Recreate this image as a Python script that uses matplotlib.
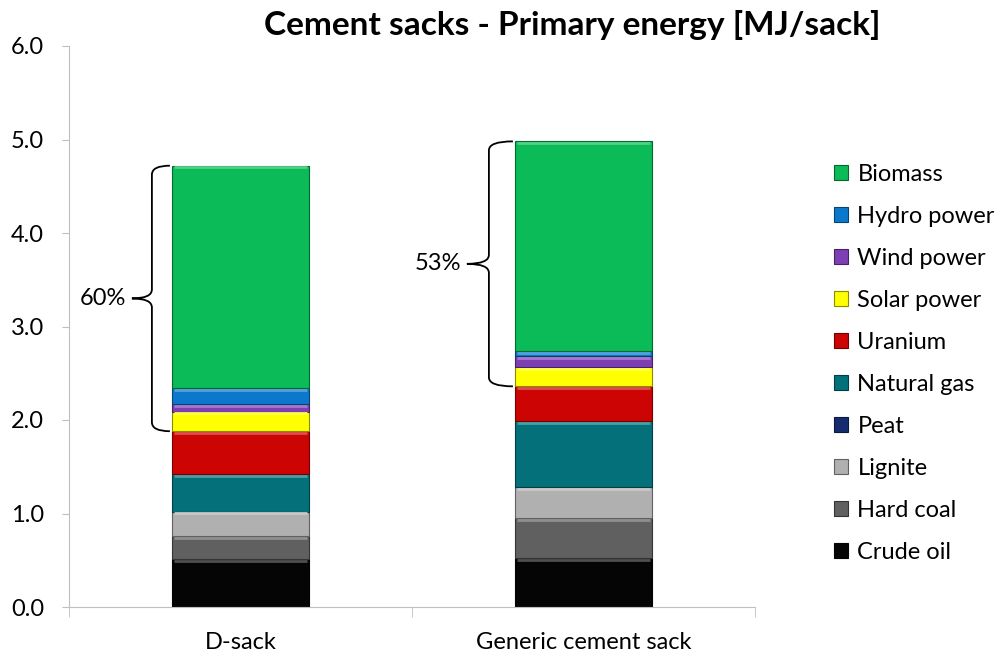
import numpy as np
import matplotlib
matplotlib.use("Agg")
import matplotlib.pyplot as plt
import matplotlib.colors as mcolors
from matplotlib.path import Path
from matplotlib.patches import PathPatch

plt.rcParams['font.family'] = ['Lato', 'DejaVu Sans']

# data (MJ per sack), stacked bottom -> top
categories = ["D-sack", "Generic cement sack"]
sources = ["Crude oil", "Hard coal", "Lignite", "Peat", "Natural gas",
           "Uranium", "Solar power", "Wind power", "Hydro power", "Biomass"]
dsack = [0.51, 0.25, 0.26, 0.0, 0.40, 0.46, 0.21, 0.08, 0.17, 2.38]
generic = [0.52, 0.43, 0.33, 0.0, 0.71, 0.37, 0.21, 0.11, 0.06, 2.24]
renew_share = ["60%", "53%"]
renewables = ["Solar power", "Wind power", "Hydro power", "Biomass"]

colors = ["#050505", "#606060", "#B0B0B0", "#142C6E", "#04707A",
          "#CC0404", "#FFFF00", "#7E3FB5", "#0C78CC", "#0ABB57"]

values = np.array([dsack, generic])  # shape (2, n_sources)
x = np.arange(len(categories))
width = 0.4

fig = plt.figure(figsize=(10.02, 6.57), dpi=100)
ax = fig.add_axes([69/1002, 50/657, 686/1002, 561/657])

px_x = 686 / 2.0
px_y = 561 / 6.0


def shade(c, f):
    # f>0 lighter, f<0 darker
    rgb = np.array(mcolors.to_rgb(c))
    if f > 0:
        rgb = rgb + (1 - rgb) * f
    else:
        rgb = rgb * (1 + f)
    return rgb


bottom = np.zeros(len(categories))
handles = []
for i, src in enumerate(sources):
    b = ax.bar(x, values[:, i], width, bottom=bottom, color=colors[i],
               edgecolor=shade(colors[i], -0.45), linewidth=0.8,
               label=src, zorder=2)
    handles.append(b)
    # bevel look: light band at the top of each segment
    for j in range(len(categories)):
        if values[j, i] > 0.03:
            top = bottom[j] + values[j, i] - 1.8 / px_y
            ax.hlines(top, x[j] - width / 2 + 2 / px_x, x[j] + width / 2 - 2 / px_x,
                      color=shade(colors[i], 0.3), lw=2.0, zorder=2.5)
    bottom += values[:, i]

ax.set_ylim(0, 6)
ax.set_xlim(-0.5, 1.5)
ax.set_yticks(np.arange(0, 6.1, 1.0))
ax.set_yticklabels([f"{v:.1f}" for v in np.arange(0, 6.1, 1.0)])
ax.set_xticks(x)
ax.set_xticklabels(categories)
ax.set_xticks([-0.5, 0.5, 1.5], minor=True)
ax.tick_params(axis='x', which='major', length=0, pad=18, labelsize=17)
ax.tick_params(axis='x', which='minor', length=7, color="#BFBFBF", direction='out')
ax.tick_params(axis='y', length=5, color="#BFBFBF", pad=13, labelsize=17)
for s in ["top", "right"]:
    ax.spines[s].set_visible(False)
for s in ["left", "bottom"]:
    ax.spines[s].set_color("#BFBFBF")

# braces around renewable part
n_fossil = sources.index(renewables[0])
brace_off = [20, 26]   # px from bar edge to brace stem
tip_off = [40, 48]     # px from bar edge to brace tip
for j in range(len(categories)):
    lo = values[j, :n_fossil].sum()
    hi = values[j].sum()
    mid = (lo + hi) / 2
    xe = x[j] - width / 2 - 2 / px_x
    xs = x[j] - width / 2 - brace_off[j] / px_x
    xt = x[j] - width / 2 - tip_off[j] / px_x
    r = 9 / px_y
    codes = [Path.MOVETO, Path.CURVE3, Path.CURVE3,
             Path.LINETO, Path.CURVE3, Path.CURVE3,
             Path.MOVETO, Path.CURVE3, Path.CURVE3,
             Path.LINETO, Path.CURVE3, Path.CURVE3]
    verts = [(xe, hi), (xs, hi), (xs, hi - r),
             (xs, mid + r), (xs, mid), (xt, mid),
             (xt, mid), (xs, mid), (xs, mid - r),
             (xs, lo + r), (xs, lo), (xe, lo)]
    ax.add_patch(PathPatch(Path(verts, codes), fill=False, lw=1.3,
                           edgecolor="black", zorder=3))
    ax.text(xt - 6 / px_x, mid, renew_share[j], ha='right', va='center',
            fontsize=17)

fig.text(572/1002, (657-35)/657, "Cement sacks - Primary energy [MJ/sack]",
         ha='center', va='baseline', fontsize=24, fontweight='bold')

leg = fig.legend(handles[::-1], sources[::-1], loc='upper left',
                 bbox_to_anchor=(822/1002, (657-152)/657), frameon=False,
                 fontsize=17, handlelength=0.6, handleheight=0.6,
                 handletextpad=0.4, labelspacing=0.89, borderpad=0)

fig.savefig("out.png", dpi=100)
